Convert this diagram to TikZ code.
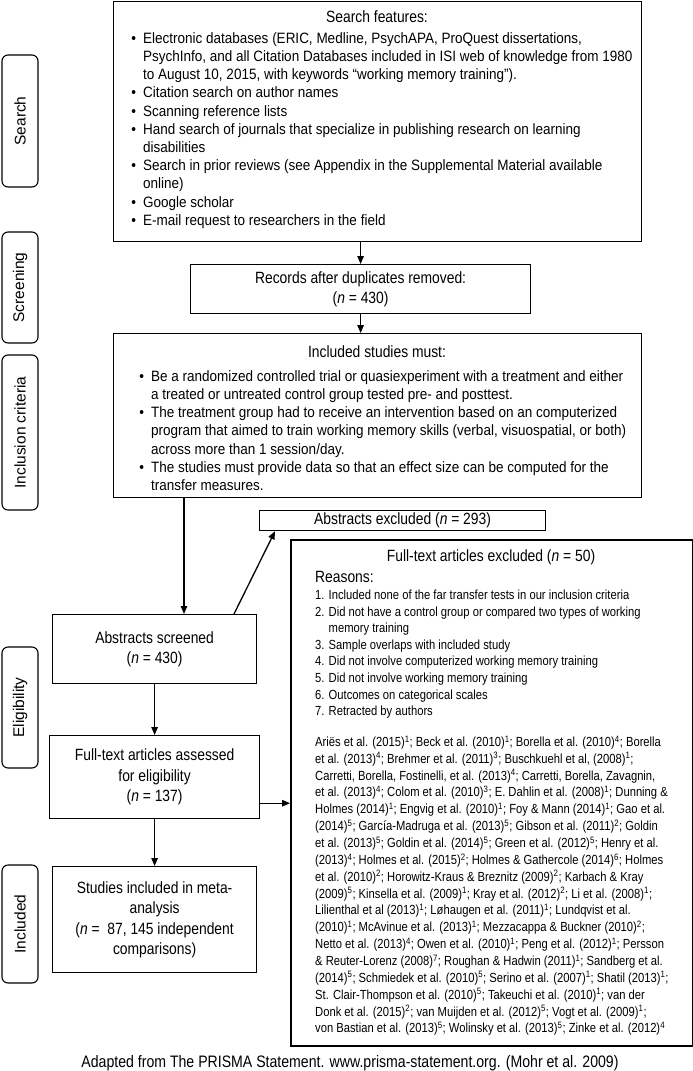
\documentclass[tikz,border=0pt]{standalone}
\usepackage{fontspec}
\setmainfont{Liberation Sans}[FakeStretch=0.85]
\newfontfamily\regfont{Liberation Sans}
\newfontfamily\bodyfont{Liberation Sans}[FakeStretch=0.9]
\usetikzlibrary{arrows.meta,calc}
\newcommand{\bu}{\makebox[0pt][r]{\textbullet\hspace{7pt}}}
\begin{document}
\begin{tikzpicture}[x=1pt,y=-1pt,
  box/.style={draw,line width=1.2pt,inner sep=0pt,anchor=north west},
  lab/.style={draw,line width=1.1pt,rounded corners=6pt,inner sep=0pt,minimum width=36pt,font=\regfont\fontsize{15.5}{19}\selectfont},
  arr/.style={line width=1.3pt,-{Triangle[length=8pt,width=6.5pt]}},
  ctext/.style={align=center,font=\fontsize{16.3}{20.5}\selectfont},
  mline/.style={anchor=base west,inner sep=0pt,font=\bodyfont\fontsize{15}{18.2}\selectfont},
  sline/.style={anchor=base west,inner sep=0pt,font=\fontsize{13.2}{16.7}\selectfont},
]
\fill[white] (0,0) rectangle (693,1071);
\useasboundingbox (0,0) rectangle (693,1071);

% side labels
\node[lab,minimum height=132pt] (lsearch) at (20,121) {\rotatebox{90}{Search}};
\node[lab,minimum height=111pt] (lscreen) at (20,287.5) {\rotatebox{90}{Screening}};
\node[lab,minimum height=155pt] (lincl) at (20,432.5) {\rotatebox{90}{Inclusion criteria}};
\node[lab,minimum height=121pt] (lelig) at (20,707.5) {\rotatebox{90}{Eligibility}};
\node[lab,minimum height=118pt] (linc) at (20,924) {\rotatebox{90}{Included}};

% boxes
\node[box,minimum width=528pt,minimum height=240pt] (search) at (113,1) {};
\node[box,ctext,minimum width=340pt,minimum height=49pt] (records) at (190,264) {Records after duplicates removed:\\(\textit{n} = 430)};
\node[box,minimum width=528pt,minimum height=164pt] (incl) at (113,333) {};
\node[box,ctext,minimum width=286pt,minimum height=20pt] (absexc) at (259,510) {Abstracts excluded (\textit{n} = 293)};
\node[box,line width=2pt,minimum width=402pt,minimum height=506pt] (ftexc) at (290,539) {};
\node[box,ctext,minimum width=204pt,minimum height=69pt] (absscr) at (52,614) {Abstracts screened\\(\textit{n} = 430)};
\node[box,ctext,minimum width=210pt,minimum height=83pt] (ftass) at (49,735) {Full-text articles assessed\\for eligibility\\(\textit{n} = 137)};
\node[box,ctext,minimum width=204pt,minimum height=106pt] (studies) at (52,866) {Studies included in meta-\\analysis\\(\textit{n} =\ \ 87, 145 independent\\comparisons)};

% search box text
\node[ctext,inner sep=0pt] (t1) at (377,17) {Search features:};
\foreach \t [count=\i] in {
 {\bu Electronic databases (ERIC, Medline, PsychAPA, ProQuest dissertations,},
 {PsychInfo, and all Citation Databases included in ISI web of knowledge from 1980},
 {to August 10, 2015, with keywords “working memory training”).},
 {\bu Citation search on author names},
 {\bu Scanning reference lists},
 {\bu Hand search of journals that specialize in publishing research on learning},
 {disabilities},
 {\bu Search in prior reviews (see Appendix in the Supplemental Material available},
 {online)},
 {\bu Google scholar},
 {\bu E-mail request to researchers in the field}}
 \node[mline] (s\i) at (143,{43.2+18.2*(\i-1)}) {\t};

% inclusion box text
\node[ctext,inner sep=0pt] (t2) at (377,352) {Included studies must:};
\foreach \t [count=\i] in {
 {\bu Be a randomized controlled trial or quasiexperiment with a treatment and either},
 {a treated or untreated control group tested pre- and posttest.},
 {\bu The treatment group had to receive an intervention based on an computerized},
 {program that aimed to train working memory skills (verbal, visuospatial, or both)},
 {across more than 1 session/day.},
 {\bu The studies must provide data so that an effect size can be computed for the},
 {transfer measures.}}
 \node[mline] (n\i) at (151,{381.2+18.2*(\i-1)}) {\t};

% full-text excluded box text
\node[ctext,inner sep=0pt] (t3) at (491,557) {Full-text articles excluded (\textit{n} = 50)};
\node[anchor=base west,inner sep=0pt,font=\fontsize{16.3}{20}\selectfont] (reas) at (315,582.4) {Reasons:};
\foreach \t [count=\i] in {
 {1. Included none of the far transfer tests in our inclusion criteria},
 {2. Did not have a control group or compared two types of working},
 {\phantom{2. }memory training},
 {3. Sample overlaps with included study},
 {4. Did not involve computerized working memory training},
 {5. Did not involve working memory training},
 {6. Outcomes on categorical scales},
 {7. Retracted by authors}}
 \node[sline] (r\i) at (315,{599.4+16.6*(\i-1)}) {\t};
\foreach \t [count=\i] in {
 {Ariës et al. (2015)\textsuperscript{1}; Beck et al. (2010)\textsuperscript{1}; Borella et al. (2010)\textsuperscript{4}; Borella},
 {et al. (2013)\textsuperscript{4}; Brehmer et al. (2011)\textsuperscript{3}; Buschkuehl et al, (2008)\textsuperscript{1};},
 {Carretti, Borella, Fostinelli, et al. (2013)\textsuperscript{4}; Carretti, Borella, Zavagnin,},
 {et al. (2013)\textsuperscript{4}; Colom et al. (2010)\textsuperscript{3}; E. Dahlin et al. (2008)\textsuperscript{1}; Dunning \&},
 {Holmes (2014)\textsuperscript{1}; Engvig et al. (2010)\textsuperscript{1}; Foy \& Mann (2014)\textsuperscript{1}; Gao et al.},
 {(2014)\textsuperscript{5}; García-Madruga et al. (2013)\textsuperscript{5}; Gibson et al. (2011)\textsuperscript{2}; Goldin},
 {et al. (2013)\textsuperscript{5}; Goldin et al. (2014)\textsuperscript{5}; Green et al. (2012)\textsuperscript{5}; Henry et al.},
 {(2013)\textsuperscript{4}; Holmes et al. (2015)\textsuperscript{2}; Holmes \& Gathercole (2014)\textsuperscript{6}; Holmes},
 {et al. (2010)\textsuperscript{2}; Horowitz-Kraus \& Breznitz (2009)\textsuperscript{2}; Karbach \& Kray},
 {(2009)\textsuperscript{5}; Kinsella et al. (2009)\textsuperscript{1}; Kray et al. (2012)\textsuperscript{2}; Li et al. (2008)\textsuperscript{1};},
 {Lilienthal et al (2013)\textsuperscript{1}; Løhaugen et al. (2011)\textsuperscript{1}; Lundqvist et al.},
 {(2010)\textsuperscript{1}; McAvinue et al. (2013)\textsuperscript{1}; Mezzacappa \& Buckner (2010)\textsuperscript{2};},
 {Netto et al. (2013)\textsuperscript{4}; Owen et al. (2010)\textsuperscript{1}; Peng et al. (2012)\textsuperscript{1}; Persson},
 {\& Reuter-Lorenz (2008)\textsuperscript{7}; Roughan \& Hadwin (2011)\textsuperscript{1}; Sandberg et al.},
 {(2014)\textsuperscript{5}; Schmiedek et al. (2010)\textsuperscript{5}; Serino et al. (2007)\textsuperscript{1}; Shatil (2013)\textsuperscript{1};},
 {St. Clair-Thompson et al. (2010)\textsuperscript{5}; Takeuchi et al. (2010)\textsuperscript{1}; van der},
 {Donk et al. (2015)\textsuperscript{2}; van Muijden et al. (2012)\textsuperscript{5}; Vogt et al. (2009)\textsuperscript{1};},
 {von Bastian et al. (2013)\textsuperscript{5}; Wolinsky et al. (2013)\textsuperscript{5}; Zinke et al. (2012)\textsuperscript{4}}}
 \node[sline] (c\i) at (315,{746.4+16.85*(\i-1)}) {\t};

% footer
\node[inner sep=0pt,font=\fontsize{16.6}{20}\selectfont] (foot) at (350,1063) {Adapted from The PRISMA Statement. www.prisma-statement.org. (Mohr et al. 2009)};

% connectors
\draw[arr] (records.north |- search.south) -- (records.north);
\draw[arr] (records.south) -- (records.south |- incl.north);
\coordinate (i1) at ($(incl.south west)+(71,0)$);
\coordinate (i2) at (i1 |- absscr.north);
\draw[arr] (i1) -- (i2);
\coordinate (d1) at ($(absscr.north west)+(182,0)$);
\coordinate (d2) at ($(absexc.south west)+(16,0)$);
\draw[arr] (d1) -- (d2);
\draw[arr] (absscr.south) -- (ftass.north);
\draw[arr] (ftass.south) -- (studies.north);
\coordinate (h1) at ($(ftass.south east)+(0,-16)$);
\draw[arr] (h1) -- (h1 -| ftexc.west);
\end{tikzpicture}
\end{document}
